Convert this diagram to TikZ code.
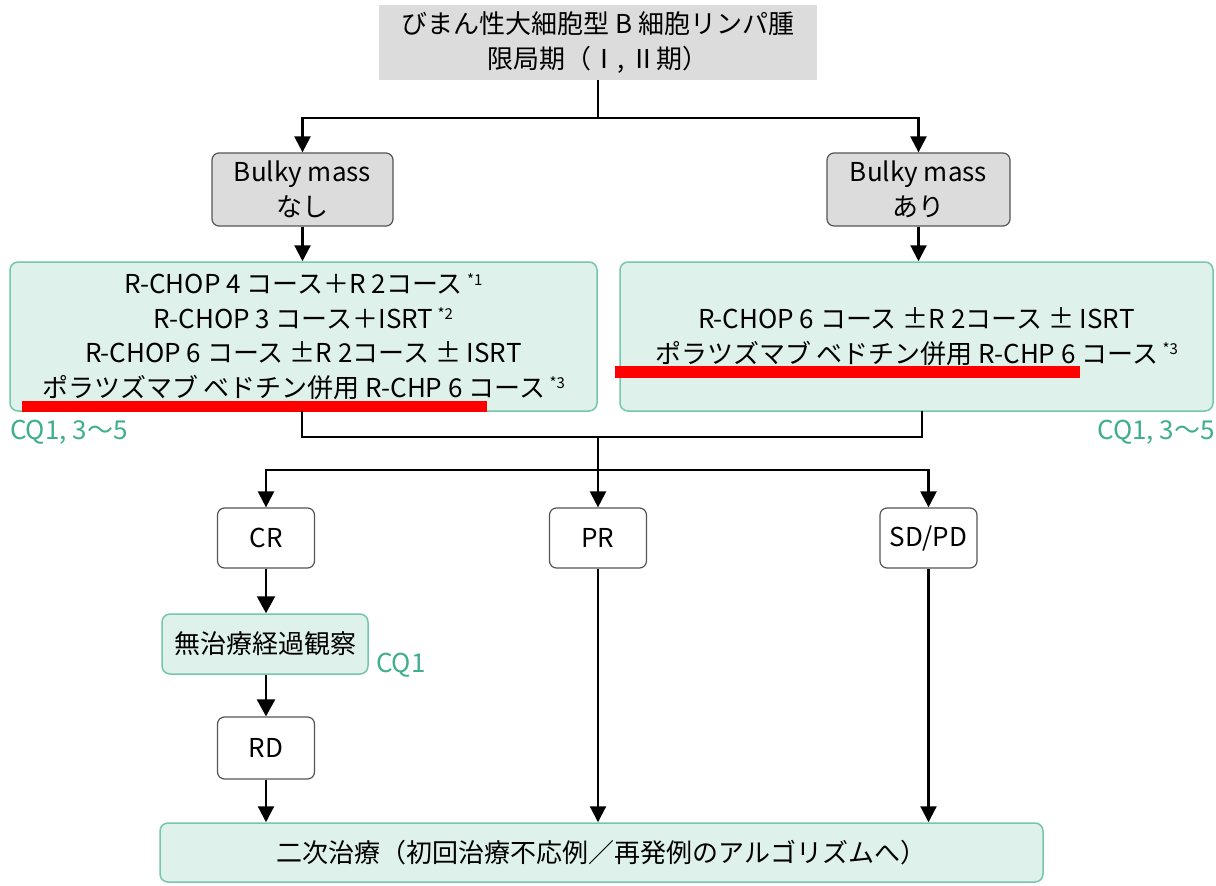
\documentclass[tikz,border=0pt]{standalone}
\usepackage{fontspec}
\setmainfont{Noto Sans CJK JP}
\usetikzlibrary{arrows.meta}
\definecolor{graybox}{HTML}{DCDCDC}
\definecolor{grayline}{HTML}{555555}
\definecolor{greenfill}{HTML}{DFF1EB}
\definecolor{greenline}{HTML}{74C7AA}
\definecolor{cqgreen}{HTML}{3FAE8C}
\definecolor{redline}{HTML}{FF0000}
\newcommand{\fnmark}[1]{\,\raisebox{0.6ex}{\fontsize{15}{15}\selectfont *#1}}
\begin{document}
\begin{tikzpicture}[x=1pt,y=-1pt,
  every node/.style={font=\fontsize{26}{34.5}\selectfont, inner sep=0pt},
  titlebox/.style={fill=graybox, minimum width=438pt, minimum height=75pt, align=center},
  bulkybox/.style={fill=graybox, draw=grayline, line width=1.2pt, rounded corners=7pt, align=center, minimum height=73pt},
  greenbox/.style={fill=greenfill, draw=greenline, line width=1.5pt, rounded corners=8pt, align=center},
  whitebox/.style={fill=white, draw=grayline, line width=1.2pt, rounded corners=7pt, align=center, minimum width=97pt, minimum height=60pt},
  cq/.style={text=cqgreen},
  conn/.style={line width=2.2pt, black},
  arr/.style={conn, -{Triangle[width=16pt,length=16pt]}},
  bigarr/.style={conn, -{Triangle[width=18pt,length=17pt]}}
]
\path[use as bounding box] (0,0) rectangle (1216,886);

% nodes
\node[titlebox] (top) at (598,42.5) {びまん性大細胞型 B 細胞リンパ腫\\限局期（Ⅰ, Ⅱ期）};
\node[bulkybox, minimum width=181pt] (bl) at (302.5,189.5) {Bulky mass\\なし};
\node[bulkybox, minimum width=183pt] (br) at (918.5,189.5) {Bulky mass\\あり};
\node[greenbox, minimum width=587pt, minimum height=149pt] (gl) at (303.5,336.5)
  {R-CHOP 4 コース＋R 2コース\fnmark{1}\\
   R-CHOP 3 コース＋ISRT\fnmark{2}\\
   R-CHOP 6 コース ±R 2コース ± ISRT\\
   ポラツズマブ ベドチン併用 R-CHP 6 コース\fnmark{3}};
\node[greenbox, minimum width=593pt, minimum height=149pt] (gr) at (916.5,336.5)
  {R-CHOP 6 コース ±R 2コース ± ISRT\\
   ポラツズマブ ベドチン併用 R-CHP 6 コース\fnmark{3}};
\node[cq, anchor=west] (cql) at (10,432) {CQ1, 3〜5};
\node[cq, anchor=east] (cqr) at (1215,432) {CQ1, 3〜5};

\node[whitebox] (cr) at (266,538) {CR};
\node[whitebox] (pr) at (598,538) {PR};
\node[whitebox] (sd) at (928.5,538) {SD/PD};
\node[greenbox, minimum width=206pt, minimum height=60pt] (obs) at (265,644) {無治療経過観察};
\node[cq, anchor=west] (cqo) at (376,665) {CQ1};
\node[whitebox, minimum height=62pt] (rd) at (266,748) {RD};
\node[greenbox, minimum width=883pt, minimum height=59pt] (bot) at (601.5,852.5)
  {二次治療（初回治療不応例／再発例のアルゴリズムへ）};

% red underlines
\fill[redline] (22,401) rectangle (487,412);
\fill[redline] (615,366) rectangle (1080,378);

% connectors
\coordinate (j1) at (598,118);
\draw[conn] (top.south) -- (j1);
\draw[arr] (j1) -| (bl.north);
\draw[arr] (j1) -| (br.north);
\draw[arr] (bl.south) -- (bl.south |- gl.north);
\draw[arr] (br.south) -- (br.south |- gr.north);

\coordinate (j2) at (598,437);
\coordinate (j3) at (598,470);
\coordinate (gls) at (302,411);
\coordinate (grs) at (922,411);
\draw[conn] (gls) |- (j2);
\draw[conn] (grs) |- (j2);
\draw[conn] (j2) -- (j3);
\draw[arr] (j3) -| (cr.north);
\draw[arr] (j3) -- (pr.north);
\draw[arr] (j3) -| (sd.north);

\draw[bigarr] (cr.south) -- (cr.south |- obs.north);
\draw[bigarr] (cr.south |- obs.south) -- (rd.north);
\draw[arr] (rd.south) -- (rd.south |- bot.north);
\draw[arr] (pr.south) -- (pr.south |- bot.north);
\draw[arr] (sd.south) -- (sd.south |- bot.north);
\end{tikzpicture}
\end{document}
